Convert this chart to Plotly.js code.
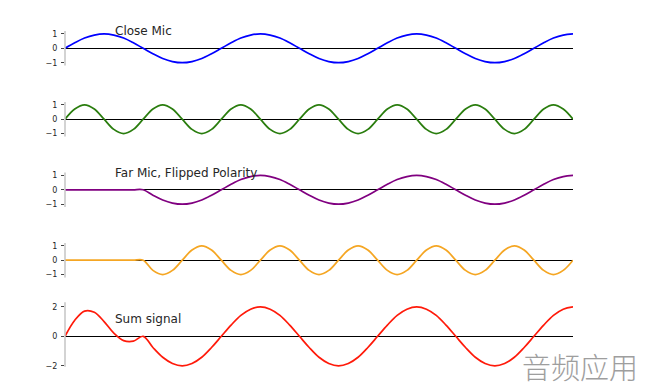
<!DOCTYPE html>
<html>
<head>
<meta charset="utf-8">
<script src="https://cdn.plot.ly/plotly-3.0.1.min.js"></script>
<style>html,body{margin:0;padding:0;background:#fff;}#chart{width:646px;height:386px;}</style>
</head>
<body>
<div id="chart"></div>
<script>
// time in ms
const t = [0,0.625,1.25,1.875,2.5,3.125,3.75,4.375,5,5.625,6.25,6.875,7.5,8.125,8.75,9.375,10,10.625,11.25,11.875,12.5,13.125,13.75,14.375,15,15.625,16.25,16.875,17.5,18.125,18.75,19.375,20,20.625,21.25,21.875,22.5,23.125,23.75,24.375,25,25.625,26.25,26.875,27.5,28.125,28.75,29.375,30,30.625,31.25,31.875,32.5];

const closeMic = [0,.38,.71,.92,1,.92,.71,.38,0,-.38,-.71,-.92,-1,-.92,-.71,-.38,
  0,.38,.71,.92,1,.92,.71,.38,0,-.38,-.71,-.92,-1,-.92,-.71,-.38,
  0,.38,.71,.92,1,.92,.71,.38,0,-.38,-.71,-.92,-1,-.92,-.71,-.38,
  0,.38,.71,.92,1];

const closeMic2 = [0,.71,1,.71,0,-.71,-1,-.71, 0,.71,1,.71,0,-.71,-1,-.71,
  0,.71,1,.71,0,-.71,-1,-.71, 0,.71,1,.71,0,-.71,-1,-.71,
  0,.71,1,.71,0,-.71,-1,-.71, 0,.71,1,.71,0,-.71,-1,-.71,
  0,.71,1,.71,0];

const farMic = [0,0,0,0,0,0,0,0,
  0,-.38,-.71,-.92,-1,-.92,-.71,-.38,
  0,.38,.71,.92,1,.92,.71,.38,0,-.38,-.71,-.92,-1,-.92,-.71,-.38,
  0,.38,.71,.92,1,.92,.71,.38,0,-.38,-.71,-.92,-1,-.92,-.71,-.38,
  0,.38,.71,.92,1];

const farMic2 = [0,0,0,0,0,0,0,0,
  0,-.71,-1,-.71,0,.71,1,.71, 0,-.71,-1,-.71,0,.71,1,.71,
  0,-.71,-1,-.71,0,.71,1,.71, 0,-.71,-1,-.71,0,.71,1,.71,
  0,-.71,-1,-.71,0,.71,1,.71,
  0,-.71,-1,-.71,0];

const sumSignal = [0,1.09,1.71,1.63,1,.21,-.29,-.33,
  0,-.76,-1.42,-1.84,-2,-1.84,-1.42,-.76,
  0,.76,1.42,1.84,2,1.84,1.42,.76,0,-.76,-1.42,-1.84,-2,-1.84,-1.42,-.76,
  0,.76,1.42,1.84,2,1.84,1.42,.76,0,-.76,-1.42,-1.84,-2,-1.84,-1.42,-.76,
  0,.76,1.42,1.84,2];

const seriesList = [closeMic, closeMic2, farMic, farMic2, sumSignal];
const colors = ['#0000ff', '#2a7d0e', '#800080', '#f5a623', '#ff1a0a'];
const labels = ['Close Mic', '', 'Far Mic, Flipped Polarity', '', 'Sum signal'];
const tickSets = [[-1,0,1],[-1,0,1],[-1,0,1],[-1,0,1],[-2,0,2]];
const tickTexts = [['\u22121','0','1'],['\u22121','0','1'],['\u22121','0','1'],['\u22121','0','1'],['\u22122','0','2']];

const H = 386;
const zeros = [48.3, 119.2, 189.8, 260.2, 336.3];
const scales = [14.4, 14.4, 14.4, 14.4, 14.75];
const halves = [24, 24, 24, 24, 34];
const spineLo = [-1.2, -1.2, -1.2, -1.2, -2.07];
const spineHi = [1.2, 1.2, 1.2, 1.2, 2.35];

const traces = [];
const layout = {
  width: 646, height: 386,
  margin: {l: 65, r: 73, t: 0, b: 0},
  paper_bgcolor: '#fff', plot_bgcolor: 'rgba(0,0,0,0)',
  showlegend: false,
  font: {family: 'DejaVu Sans', color: '#262626'},
  xaxis: {range: [0, 32.5], visible: false, showgrid: false, zeroline: false},
  shapes: [], annotations: []
};

seriesList.forEach((s, i) => {
  const n = i + 1;
  const yname = n === 1 ? 'y' : 'y' + n;
  const axname = n === 1 ? 'yaxis' : 'yaxis' + n;
  traces.push({
    x: t, y: s, xaxis: 'x', yaxis: yname, type: 'scatter', mode: 'lines',
    line: {color: colors[i], width: 1.7, shape: 'spline', smoothing: 1},
    hoverinfo: 'skip'
  });
  const h = halves[i] / scales[i];
  const bot = (H - (zeros[i] + halves[i])) / H;
  const top = (H - (zeros[i] - halves[i])) / H;
  layout[axname] = {
    domain: [bot, top], range: [-h, h], anchor: 'x',
    showgrid: false, showline: false,
    zeroline: true, zerolinecolor: '#000', zerolinewidth: 1.3,
    tickmode: 'array', tickvals: tickSets[i], ticktext: tickTexts[i],
    ticks: 'outside', ticklen: 3, tickwidth: 1, tickcolor: '#444',
    ticklabelstandoff: 2,
    tickfont: {family: 'DejaVu Sans', size: 8, color: '#262626'},
    fixedrange: true
  };
  layout.shapes.push({
    type: 'line', xref: 'paper', yref: yname, x0: 0, x1: 0,
    y0: spineLo[i], y1: spineHi[i], line: {color: '#c4c4c4', width: 1.5}
  });
  if (labels[i]) {
    layout.annotations.push({
      text: labels[i], xref: 'x', yref: yname, x: 3.07, y: 1.2,
      xanchor: 'left', yanchor: 'middle', showarrow: false,
      font: {family: 'DejaVu Sans', size: 12, color: '#262626'}
    });
  }
});

layout.annotations.push({
  text: '音频应用', xref: 'paper', yref: 'paper',
  x: (640 - 65) / 508, y: (H - 366) / H, xanchor: 'right', yanchor: 'middle',
  showarrow: false,
  font: {family: 'Noto Sans CJK SC', size: 29, color: '#9e9e9e', weight: 300}
});

Plotly.newPlot('chart', traces, layout, {displayModeBar: false, staticPlot: true});
</script>
</body>
</html>
